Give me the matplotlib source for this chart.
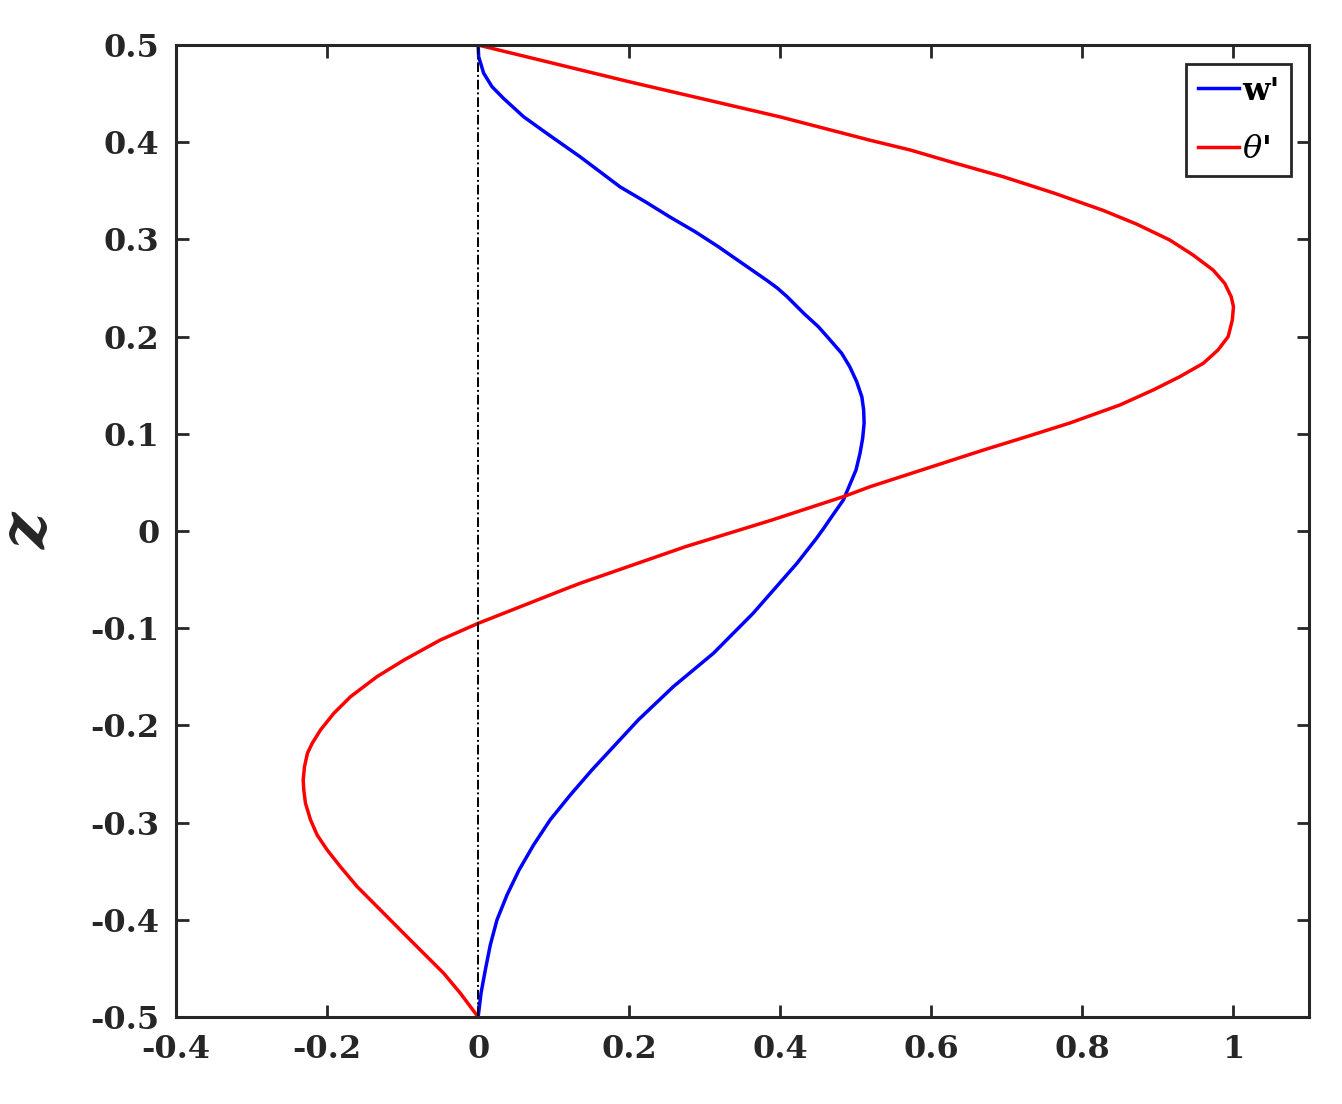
import matplotlib
matplotlib.use("Agg")
import matplotlib.pyplot as plt

# ---- data (z, value) ----
w_z = [-0.5, -0.4756, -0.4516, -0.4259, -0.400, -0.3745, -0.349, -0.323, -0.297,
       -0.2716, -0.2459, -0.1944, -0.160, -0.1258, -0.0847, -0.0333, -0.0075,
       0.0044, 0.0113, 0.0319, 0.0628, 0.080, 0.0954, 0.111, 0.1245, 0.138,
       0.1536, 0.169, 0.1828, 0.1965, 0.2102, 0.224, 0.2411, 0.250, 0.258,
       0.2822, 0.2925, 0.3079, 0.323, 0.3388, 0.354, 0.385, 0.409, 0.4262,
       0.445, 0.4571, 0.471, 0.488, 0.5]
w_x = [0.0, 0.0038, 0.0095, 0.0161, 0.025, 0.0382, 0.054, 0.0734, 0.0955,
       0.122, 0.1506, 0.212, 0.2586, 0.3115, 0.364, 0.422, 0.448,
       0.459, 0.465, 0.4835, 0.5003, 0.5056, 0.5091, 0.511, 0.5104, 0.508,
       0.5012, 0.492, 0.4813, 0.466, 0.4504, 0.431, 0.409, 0.396, 0.382,
       0.337, 0.318, 0.2873, 0.254, 0.2212, 0.188, 0.135, 0.091, 0.0602,
       0.0337, 0.0184, 0.0073, 0.0007, 0.0]

t_z = [-0.5, -0.4756, -0.455, -0.4345, -0.4105, -0.3865, -0.366, -0.3454, -0.328,
       -0.3128, -0.297, -0.2801, -0.2665, -0.2562, -0.2425, -0.2287, -0.2184,
       -0.2047, -0.1876, -0.1705, -0.1499, -0.1327, -0.1121, -0.095, -0.059,
       -0.0538, -0.016, 0.0113, 0.0353, 0.0456, 0.0833, 0.097, 0.111, 0.1296,
       0.145, 0.1587, 0.1725, 0.1862, 0.200, 0.2171, 0.2308, 0.241, 0.2548,
       0.2685, 0.284, 0.2994, 0.3158, 0.330, 0.348, 0.3645, 0.379, 0.392,
       0.402, 0.426, 0.462, 0.5]
t_x = [0.0, -0.0235, -0.0456, -0.0721, -0.103, -0.1337, -0.160, -0.1823, -0.200,
       -0.2131, -0.222, -0.2286, -0.2308, -0.2316, -0.2299, -0.226, -0.2197,
       -0.2087, -0.1911, -0.169, -0.134, -0.098, -0.050, 0.0, 0.1176,
       0.135, 0.275, 0.389, 0.4835, 0.519, 0.669, 0.726, 0.783, 0.8495,
       0.8935, 0.9288, 0.960, 0.9795, 0.993, 0.9985, 1.0, 0.997, 0.9884,
       0.973, 0.9464, 0.9156, 0.8716, 0.827, 0.761, 0.695, 0.629, 0.572,
       0.519, 0.400, 0.201, 0.0]

ref_x = 0.0

x_ticks = [-0.4, -0.2, 0, 0.2, 0.4, 0.6, 0.8, 1.0]
x_tick_labels = ["-0.4", "-0.2", "0", "0.2", "0.4", "0.6", "0.8", "1"]
y_ticks = [-0.5, -0.4, -0.3, -0.2, -0.1, 0, 0.1, 0.2, 0.3, 0.4, 0.5]
y_tick_labels = ["-0.5", "-0.4", "-0.3", "-0.2", "-0.1", "0", "0.1", "0.2", "0.3", "0.4", "0.5"]

series_labels = ["w'", r"$\theta$'"]

# ---- figure ----
plt.rcParams['font.family'] = ['DejaVu Serif']
plt.rcParams['mathtext.fontset'] = 'dejavuserif'

fig = plt.figure(figsize=(13.42, 11.04), dpi=100)
ax = fig.add_axes([176/1342, 1 - 1017/1104, (1309-176)/1342, (1017-45)/1104])

ax.plot(w_x, w_z, color='#0000ff', lw=2.5, label=series_labels[0])
ax.plot(t_x, t_z, color='#ff0000', lw=2.5, label=series_labels[1])
ax.axvline(ref_x, color='black', lw=1.4, linestyle='-.', dashes=(5, 1.5, 1, 1.5))

ax.set_xlim(-0.4, 1.1)
ax.set_ylim(-0.5, 0.5)
ax.set_xticks(x_ticks)
ax.set_xticklabels(x_tick_labels)
ax.set_yticks(y_ticks)
ax.set_yticklabels(y_tick_labels)

for lab in ax.get_xticklabels() + ax.get_yticklabels():
    lab.set_fontweight('bold')
    lab.set_fontsize(23)
    lab.set_color('#262626')

ax.tick_params(direction='in', length=9, width=2, color='#262626',
               top=True, right=True)
ax.tick_params(axis='x', pad=12)
ax.tick_params(axis='y', pad=12)
for s in ax.spines.values():
    s.set_linewidth(2.2)
    s.set_color('#262626')

ax.set_ylabel('z', fontsize=46, fontweight='bold', fontstyle='italic',
              color='#262626', labelpad=22)

leg = ax.legend(loc='upper right', bbox_to_anchor=(0.984, 0.980), borderaxespad=0,
                fontsize=23, handlelength=1.3, handletextpad=0.1,
                labelspacing=0.85, borderpad=0.35, fancybox=False,
                framealpha=1, edgecolor='#262626')
leg.get_frame().set_linewidth(2)
for t in leg.get_texts():
    t.set_fontweight('bold')

fig.savefig('out.png', dpi=100)
